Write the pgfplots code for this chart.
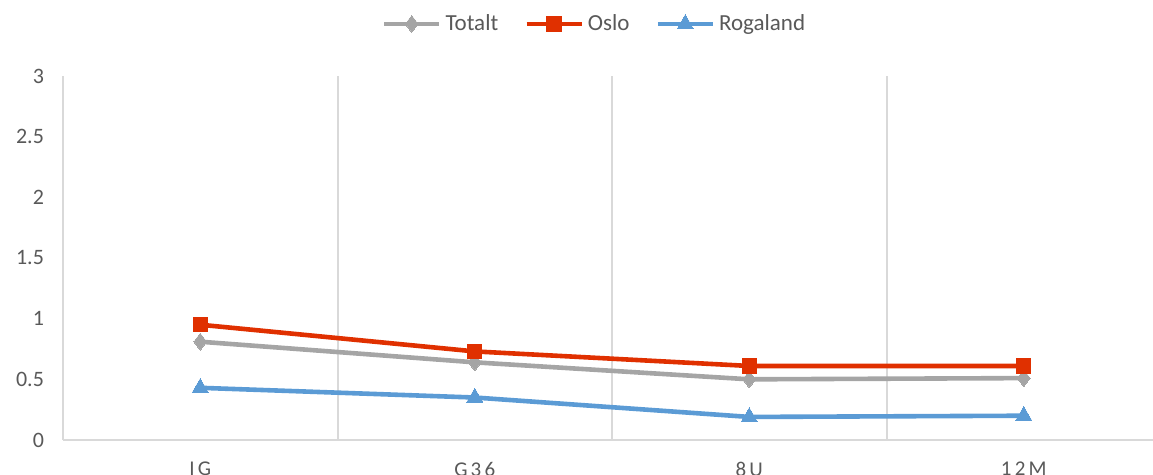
\documentclass[border=0pt]{standalone}
\usepackage{pgfplots}
\pgfplotsset{compat=1.18}
\usepackage{fontspec}
\setmainfont{Carlito}
\definecolor{totc}{RGB}{165,165,165}
\definecolor{osc}{RGB}{224,48,0}
\definecolor{rogc}{RGB}{91,155,213}
\definecolor{gridc}{RGB}{217,217,217}
\definecolor{txtc}{RGB}{89,89,89}
\begin{document}
\begin{tikzpicture}
\begin{axis}[
    name=ax,
    scale only axis,
    width=549pt, height=182pt,
    xmin=-0.5, xmax=3.5,
    ymin=0, ymax=3,
    xtick={0,1,2,3},
    xticklabels={IG,G36,8U,12M},
    minor xtick={0.5,1.5,2.5},
    xminorgrids,
    minor grid style={gridc, line width=1pt},
    ytick={0,0.5,...,3},
    yticklabels={0,0.5,1,1.5,2,2.5,3},
    major tick length=0pt, minor tick length=0pt,
    axis x line=bottom, axis y line=left,
    axis line style={gridc, line width=1pt, -},
    yticklabel style={font=\fontsize{11}{13}\selectfont, text=txtc, xshift=-6pt},
    xticklabel style={font=\fontsize{10.5}{12}\selectfont\addfontfeature{LetterSpace=15}, text=txtc, yshift=-7.5pt},
    legend style={at={(0.485,1.143)}, anchor=center, draw=none,
        font=\fontsize{11.5}{14}\selectfont, text=txtc,
        /tikz/every even column/.append style={column sep=11pt}},
    legend columns=3,
    legend image code/.code={
        \draw[#1, mark repeat=2, mark phase=2] plot coordinates {(0pt,0pt) (13.75pt,0pt) (27.5pt,0pt)};},
    clip=false,
]
\addplot[color=totc, line width=2.3pt, mark=diamond*, mark size=4.2pt, mark options={solid, line width=0pt}]
    coordinates {(0,0.81) (1,0.64) (2,0.50) (3,0.51)};
\addlegendentry{Totalt}
\addplot[color=osc, line width=2.3pt, mark=square*, mark size=3.6pt, mark options={solid, line width=0pt}]
    coordinates {(0,0.95) (1,0.73) (2,0.61) (3,0.61)};
\addlegendentry{Oslo}
\addplot[color=rogc, line width=2.3pt, mark=triangle*, mark size=4.6pt, mark options={solid, line width=0pt}]
    coordinates {(0,0.43) (1,0.35) (2,0.19) (3,0.20)};
\addlegendentry{Rogaland}
\end{axis}
\pgfresetboundingbox
\path[use as bounding box] ([shift={(-31.5pt,-17.5pt)}]ax.south west) rectangle ([shift={(545pt,220pt)}]ax.south west);
\end{tikzpicture}
\end{document}
